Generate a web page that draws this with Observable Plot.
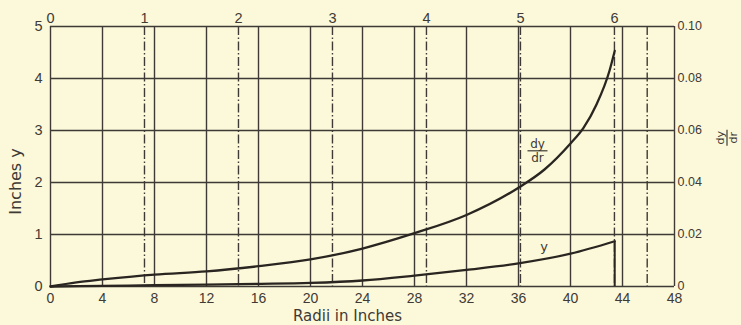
<!DOCTYPE html>
<html><head><meta charset="utf-8">
<script src="https://cdn.jsdelivr.net/npm/d3@7"></script>
<script src="https://cdn.jsdelivr.net/npm/@observablehq/plot@0.6"></script>
<style>
html,body{margin:0;padding:0;background:#fbf9da;}
</style></head><body><div id="chart"></div>
<script>
// dy/dr curve (right scale)
const radii = [0, 2, 4, 8, 12, 16, 20, 24, 28, 32, 36, 38, 40, 41, 42, 43, 43.4];
const slope = [0, 0.0016, 0.0027, 0.0046, 0.0058, 0.0078, 0.0104, 0.0146, 0.0205, 0.0275, 0.038, 0.045, 0.055, 0.061, 0.070, 0.083, 0.0906];
// y curve (left scale, inches)
const yRadii = [0, 4, 8, 12, 16, 20, 24, 28, 32, 36, 40, 43.4];
const yInches = [0, 0.012, 0.025, 0.037, 0.05, 0.068, 0.115, 0.21, 0.32, 0.445, 0.63, 0.87];

const bottomTicks = [0, 4, 8, 12, 16, 20, 24, 28, 32, 36, 40, 44, 48];
const leftTicks = [0, 1, 2, 3, 4, 5];
const rightTicks = [0, 0.02, 0.04, 0.06, 0.08, 0.10];
const rightTickLabels = ["0", "0.02", "0.04", "0.06", "0.08", "0.10"];
const topTicks = [0, 1, 2, 3, 4, 5, 6];
const inchesPerTopUnit = 7.23;
const extraDashRadii = [45.9];
const xLabel = "Radii in Inches";
const yLabel = "Inches y";

const yMax = 5, slopeMax = 0.10, k = yMax / slopeMax;

const slopeData = radii.map((r, i) => ({r, v: slope[i] * k}));
const yData = yRadii.map((r, i) => ({r, v: yInches[i]}));
const end = yData[yData.length - 1];

const ink = "#3f3a35", curveInk = "#2a2521", bg = "#fbf9da";
const tickFont = "'Liberation Sans', Arial, sans-serif";
const labelFont = "'DejaVu Sans', sans-serif";

const plot = Plot.plot({
  width: 741, height: 325,
  marginLeft: 50, marginRight: 67, marginTop: 26, marginBottom: 39,
  x: {domain: [0, 48], axis: null},
  y: {domain: [0, yMax], axis: null},
  style: {background: bg, fontFamily: tickFont, color: ink, overflow: "visible"},
  marks: [
    Plot.ruleX(bottomTicks, {stroke: ink, strokeWidth: 1.4}),
    Plot.ruleY(leftTicks, {stroke: ink, strokeWidth: 1.4}),
    Plot.ruleX(topTicks.slice(1).map(t => t * inchesPerTopUnit).concat(extraDashRadii),
      {stroke: ink, strokeWidth: 1.4, strokeDasharray: "9,2.5,1.5,2.5"}),
    Plot.ruleX([end], {x: "r", y1: 0, y2: "v", stroke: curveInk, strokeWidth: 2}),
    Plot.line(slopeData, {x: "r", y: "v", curve: "monotone-x", stroke: curveInk, strokeWidth: 2.3}),
    Plot.line(yData, {x: "r", y: "v", curve: "monotone-x", stroke: curveInk, strokeWidth: 2.3}),
    Plot.text(bottomTicks, {x: d => d, y: 0, dy: 12.5, fontSize: 14, fill: ink}),
    Plot.text(leftTicks, {x: 0, y: d => d, dx: -8, textAnchor: "end", fontSize: 14.5, fill: ink}),
    Plot.text(topTicks, {x: t => t * inchesPerTopUnit, y: yMax, dy: -8, fontSize: 14.5, fill: ink}),
    Plot.text(rightTicks, {x: 48, y: d => d * k, dx: 3, dy: -1, textAnchor: "start",
      text: (d, i) => rightTickLabels[i], fontSize: 12.5, fill: ink}),
    Plot.text([xLabel], {frameAnchor: "bottom", lineAnchor: "middle", textAnchor: "middle", dy: 29.5, dx: -15,
      fontFamily: labelFont, fontSize: 15, fill: ink, letterSpacing: 0.4}),
    Plot.text([yLabel], {frameAnchor: "left", lineAnchor: "middle", textAnchor: "middle", dx: -35, dy: 25, rotate: -90,
      fontFamily: labelFont, fontSize: 16, fill: ink, letterSpacing: 0.6})
  ]
});
document.getElementById("chart").appendChild(plot);

// fraction annotations
const sx = plot.scale("x"), sy = plot.scale("y");
const svg = d3.select(plot);
function fraction(g, num, den, size, half) {
  g.append("text").attr("text-anchor", "middle").attr("y", -3).attr("font-size", size)
    .attr("font-family", labelFont).attr("fill", ink).text(num);
  g.append("line").attr("x1", -half).attr("x2", half).attr("y1", 0).attr("y2", 0)
    .attr("stroke", ink).attr("stroke-width", 1.2);
  g.append("text").attr("text-anchor", "middle").attr("y", size - 1).attr("font-size", size)
    .attr("font-family", labelFont).attr("fill", ink).text(den);
}
fraction(svg.append("g").attr("transform", `translate(${sx.apply(37.5)},${sy.apply(2.6)})`), "dy", "dr", 12, 10);
fraction(svg.append("g").attr("transform", `translate(${sx.apply(48) + 53},${sy.apply(2.85)}) rotate(-90)`), "dy", "dr", 11, 8);
svg.append("text").attr("x", sx.apply(38.0)).attr("y", sy.apply(0.75)).attr("dy", "0.32em")
  .attr("text-anchor", "middle").attr("font-family", labelFont).attr("font-size", 13).attr("fill", ink).text("y");
</script></body></html>
